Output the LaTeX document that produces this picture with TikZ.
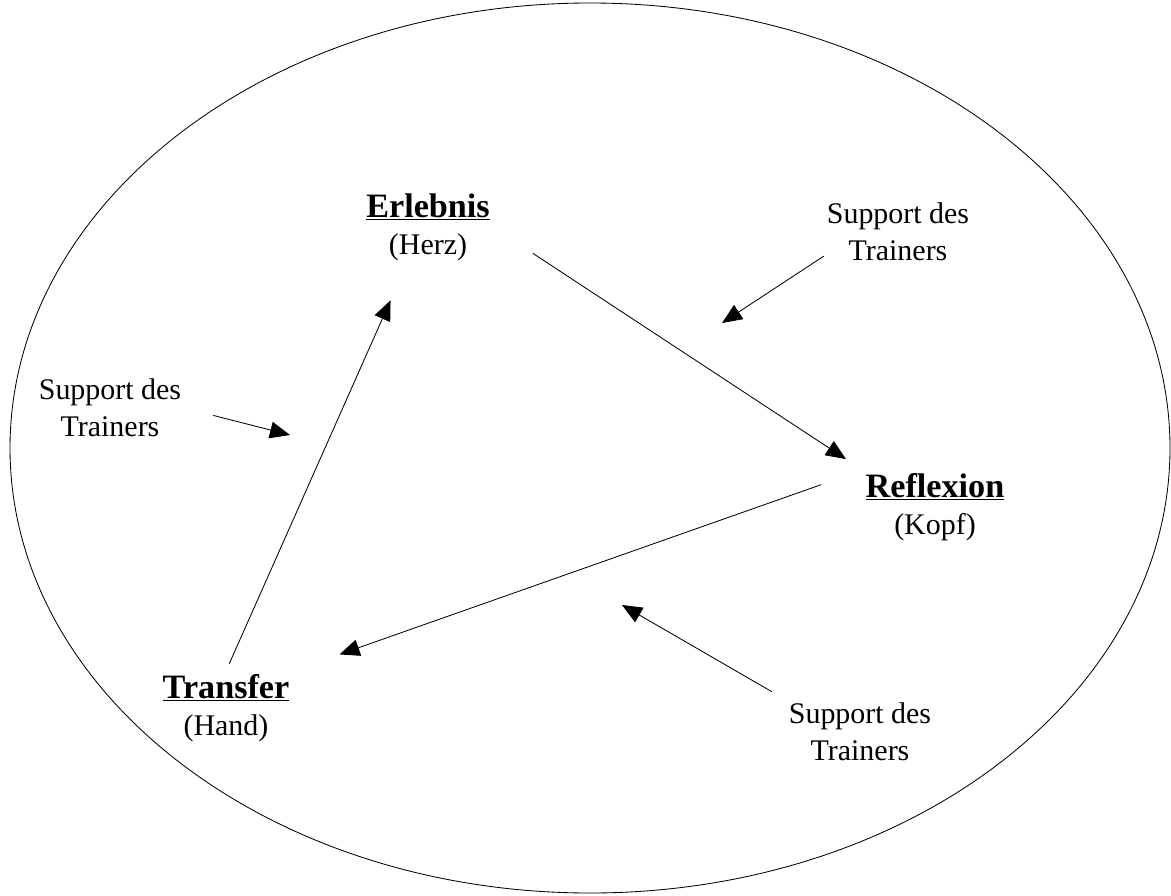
\documentclass[tikz,border=0pt]{standalone}
\usepackage{fontspec}
\setmainfont{Liberation Serif}
\usetikzlibrary{arrows.meta}
\begin{document}
\begin{tikzpicture}[x=0.025cm,y=-0.025cm,
  pfeil/.style={draw,line width=0.6pt,-{Triangle[length=0.5cm,width=0.42cm]}},
  stufe/.style={align=center,inner sep=2pt},
  hilfe/.style={align=center,inner sep=2pt}]
\fontsize{21.3}{26.5}\selectfont
\newcommand\titel[2]{{\fontsize{24.3}{26.5}\selectfont\underline{\textbf{#1}}}\\(#2)}
\useasboundingbox (0,0) rectangle (1171,895);
\draw[line width=0.6pt] (590,448) ellipse [x radius=580, y radius=445];
% die drei Stufen
\node[stufe] (erl) at (428,227) {\titel{Erlebnis}{Herz}};
\node[stufe] (refl) at (935,507) {\titel{Reflexion}{Kopf}};
\node[stufe] (trans) at (226,708) {\titel{Transfer}{Hand}};
% Support
\node[hilfe] (sup1) at (898,232) {Support des\\Trainers};
\node[hilfe] (sup2) at (110,408) {Support des\\Trainers};
\node[hilfe] (sup3) at (860,732) {Support des\\Trainers};
\coordinate (z1) at (722,323);
\coordinate (z2) at (290,435);
\coordinate (z3) at (622,605);
% Kreislauf
\draw[pfeil,shorten <=1.2cm,shorten >=0.5cm] (erl.east) -- (refl.north west);
\draw[pfeil,shorten <=1.1cm,shorten >=1.25cm] (refl.north west) -- (trans.north east);
\draw[pfeil,shorten <=0.2cm,shorten >=1cm] (trans.north) -- (erl.-120);
\draw[pfeil] (sup1.198) -- (z1);
\draw[pfeil,shorten <=0.75cm] (sup2.east) -- (z2);
\draw[pfeil,shorten <=0.4cm] (sup3.north west) -- (z3);
\end{tikzpicture}
\end{document}
